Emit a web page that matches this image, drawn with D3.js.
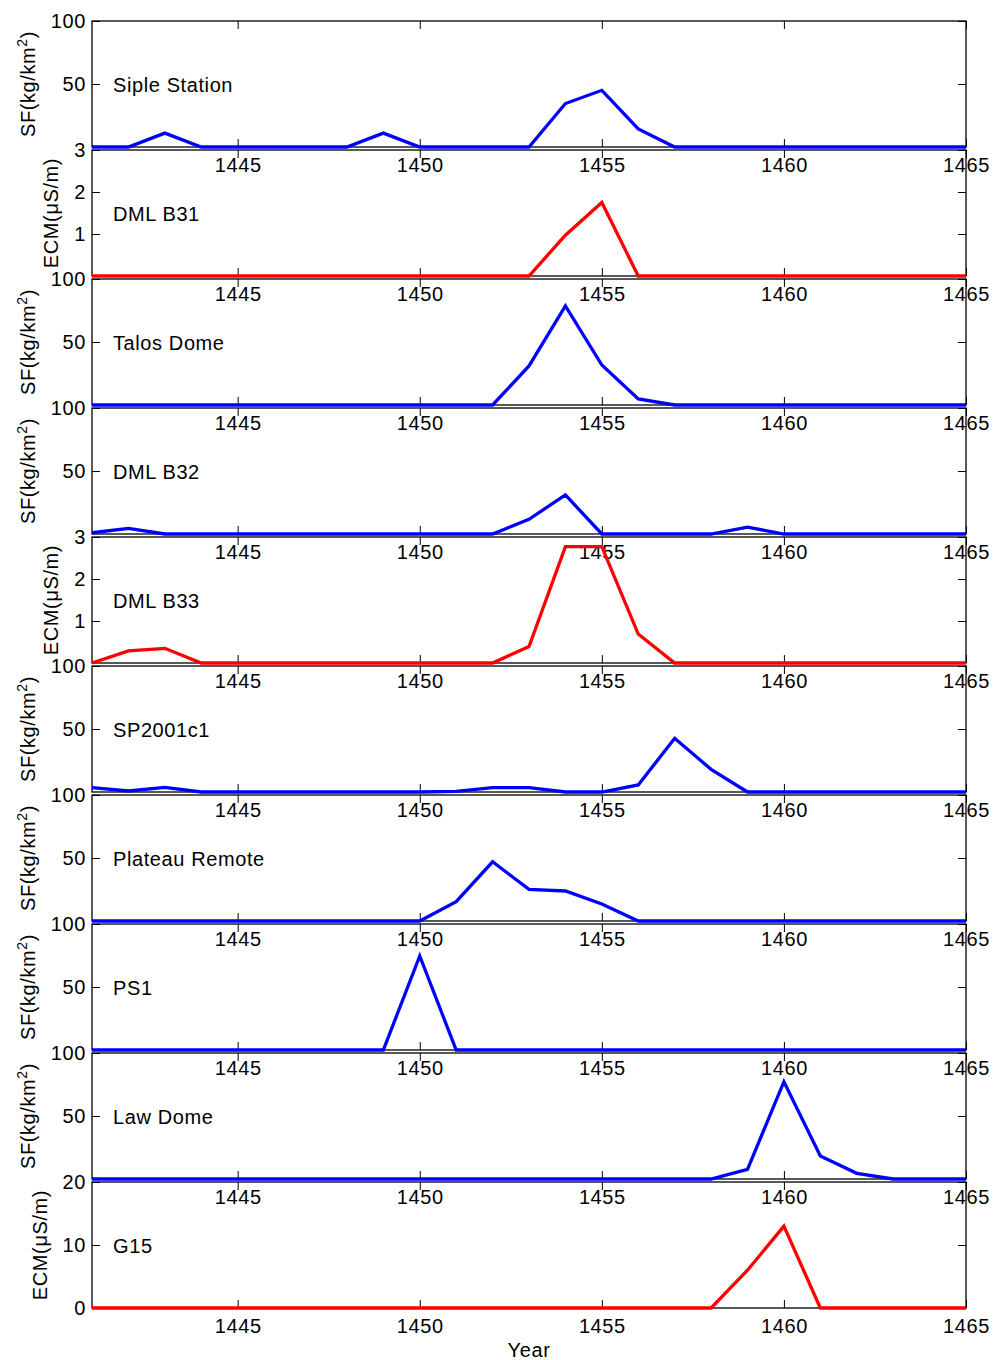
<!DOCTYPE html>
<html>
<head>
<meta charset="utf-8">
<script src="https://cdn.jsdelivr.net/npm/d3@7"></script>
<style>
    body { margin: 0; background: #fff; }
    svg text { font-family: "Liberation Sans", Arial, Helvetica, sans-serif; font-size: 20px; letter-spacing: 0.6px; fill: #000; }
</style>
</head>
<body>
<div id="chart"></div>
<script>
// data
const years = [1441, 1442, 1443, 1444, 1445, 1446, 1447, 1448, 1449, 1450, 1451, 1452, 1453,
    1454, 1455, 1456, 1457, 1458, 1459, 1460, 1461, 1462, 1463, 1464, 1465];

const siteNames = ['Siple Station', 'DML B31', 'Talos Dome', 'DML B32', 'DML B33',
    'SP2001c1', 'Plateau Remote', 'PS1', 'Law Dome', 'G15'];
const siteKinds = ['SF', 'ECM', 'SF', 'SF', 'ECM', 'SF', 'SF', 'SF', 'SF', 'ECM'];
const yMax = [100, 3, 100, 100, 3, 100, 100, 100, 100, 20];
const yTicks = [[50, 100], [1, 2, 3], [50, 100], [50, 100], [1, 2, 3],
    [50, 100], [50, 100], [50, 100], [50, 100], [0, 10, 20]];
const xTicks = [1445, 1450, 1455, 1460, 1465];

const sipleStation  = [0, 0, 11, 0, 0, 0, 0, 0, 11, 0, 0, 0, 0, 34.5, 45, 14.3, 0, 0, 0, 0, 0, 0, 0, 0, 0];
const dmlB31        = [0, 0, 0, 0, 0, 0, 0, 0, 0, 0, 0, 0, 0, 0.97, 1.75, 0, 0, 0, 0, 0, 0, 0, 0, 0, 0];
const talosDome     = [0, 0, 0, 0, 0, 0, 0, 0, 0, 0, 0, 0, 31, 78.6, 31.7, 4.8, 0, 0, 0, 0, 0, 0, 0, 0, 0];
const dmlB32        = [1, 4.5, 0, 0, 0, 0, 0, 0, 0, 0, 0, 0, 11.7, 31, 0, 0, 0, 0, 5.5, 0, 0, 0, 0, 0, 0];
const dmlB33        = [0, 0.29, 0.35, 0, 0, 0, 0, 0, 0, 0, 0, 0, 0.39, 2.77, 2.77, 0.69, 0, 0, 0, 0, 0, 0, 0, 0, 0];
const sp2001c1      = [3.4, 0.8, 3.7, 0, 0, 0, 0, 0, 0, 0, 0.5, 3.4, 3.4, 0, 0, 5.6, 42.6, 18, 0, 0, 0, 0, 0, 0, 0];
const plateauRemote = [0, 0, 0, 0, 0, 0, 0, 0, 0, 0, 15.3, 47, 25.1, 23.8, 13.5, 0, 0, 0, 0, 0, 0, 0, 0, 0, 0];
const ps1           = [0, 0, 0, 0, 0, 0, 0, 0, 0, 74.6, 0, 0, 0, 0, 0, 0, 0, 0, 0, 0, 0, 0, 0, 0, 0];
const lawDome       = [0, 0, 0, 0, 0, 0, 0, 0, 0, 0, 0, 0, 0, 0, 0, 0, 0, 0, 7.7, 77.2, 18.3, 4.5, 0, 0, 0];
const g15           = [0, 0, 0, 0, 0, 0, 0, 0, 0, 0, 0, 0, 0, 0, 0, 0, 0, 0, 6, 13, 0, 0, 0, 0, 0];

const series = [sipleStation, dmlB31, talosDome, dmlB32, dmlB33,
    sp2001c1, plateauRemote, ps1, lawDome, g15];

// layout
let width = 994,
    height = 1360,
    left = 92,
    right = 966,
    top0 = 21,
    panelH = 126,
    step = 129,
    tickLen = 8;

const svg = d3.select('#chart').append('svg')
    .attr('width', width)
    .attr('height', height);

const x = d3.scaleLinear()
    .domain([1441, 1465])
    .range([left, right]);

function drawPanel(i) {
    const y0 = top0 + i * step;
    const color = siteKinds[i] === 'SF' ? '#0000ff' : '#ff0000';
    const y = d3.scaleLinear()
        .domain([0, yMax[i]])
        .range([y0 + panelH, y0]);

    const g = svg.append('g').attr('class', 'panel');

    // box
    g.append('rect')
        .attr('x', left)
        .attr('y', y0)
        .attr('width', right - left)
        .attr('height', panelH)
        .attr('fill', 'none')
        .attr('stroke', '#000')
        .attr('stroke-width', 1.3);

    // ticks, all pointing inward
    g.append('g')
        .attr('transform', 'translate(0,' + (y0 + panelH) + ')')
        .call(d3.axisBottom(x).tickValues(xTicks).tickSize(-tickLen).tickPadding(11).tickFormat(d3.format('d')));
    g.append('g')
        .attr('transform', 'translate(0,' + y0 + ')')
        .call(d3.axisTop(x).tickValues(xTicks).tickSize(-tickLen).tickFormat(''));
    const yAxis = g.append('g')
        .attr('transform', 'translate(' + left + ',0)')
        .call(d3.axisLeft(y).tickValues(yTicks[i]).tickSize(-tickLen).tickPadding(6).tickFormat(d3.format('d')));
    g.append('g')
        .attr('transform', 'translate(' + right + ',0)')
        .call(d3.axisRight(y).tickValues(yTicks[i]).tickSize(-tickLen).tickFormat(''));
    g.selectAll('.domain').remove();
    g.selectAll('.tick line').attr('stroke-width', 1);

    // y label sits left of the widest tick label
    let maxW = 0;
    yAxis.selectAll('text').each(function () {
        maxW = Math.max(maxW, this.getComputedTextLength());
    });
    const lx = left - 6 - maxW - 16;
    const label = g.append('text')
        .attr('transform', 'translate(' + lx + ',' + (y0 + panelH / 2) + ') rotate(-90)')
        .attr('text-anchor', 'middle');
    if (siteKinds[i] === 'SF') {
        label.append('tspan').text('SF(kg/km');
        label.append('tspan').attr('dy', -8).style('font-size', '14px').text('2');
        label.append('tspan').attr('dy', 8).text(')');
    } else {
        label.text('ECM(\u03bcS/m)');
    }

    // site name
    g.append('text')
        .attr('x', 113)
        .attr('y', y0 + panelH / 2 + 1)
        .attr('dy', '0.35em')
        .text(siteNames[i]);

    // data line
    const line = d3.line()
        .x((d, k) => x(years[k]))
        .y(d => y(d));
    g.append('path')
        .datum(series[i])
        .attr('d', line)
        .attr('fill', 'none')
        .attr('stroke', color)
        .attr('stroke-width', 3.3);
}

siteNames.forEach((n, i) => drawPanel(i));

svg.append('text')
    .attr('x', (left + right) / 2)
    .attr('y', 1357)
    .attr('text-anchor', 'middle')
    .text('Year');
</script>
</body>
</html>
